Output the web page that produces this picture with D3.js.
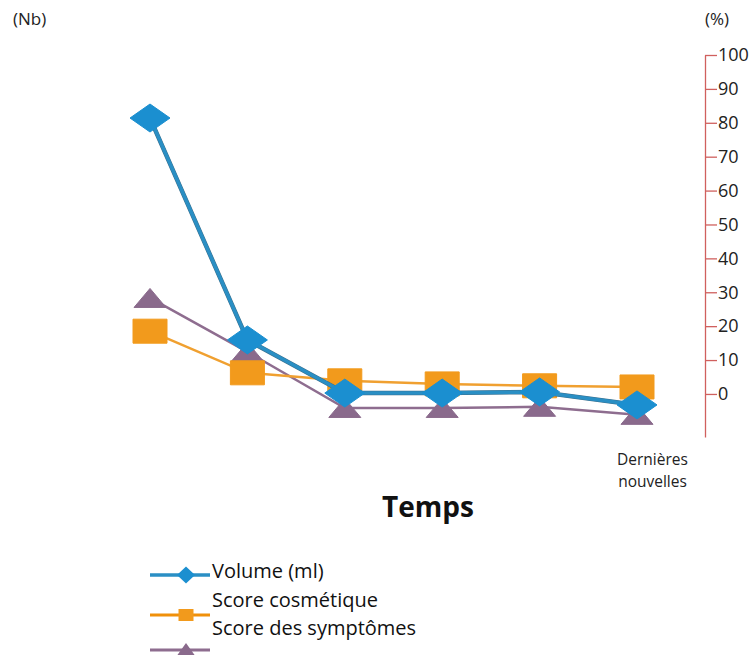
<!DOCTYPE html>
<html><head><meta charset="utf-8">
<script src="https://cdn.jsdelivr.net/npm/d3@7"></script>
<style>
html,body{margin:0;padding:0;background:#fff;}
svg{display:block;font-family:"Open Sans",sans-serif;}
</style></head>
<body>
<svg id="chart" width="751" height="655"></svg>
<script>
// ---- data ----
const categories = ["T1","T2","T3","T4","T5","Dernières nouvelles"];
const categoryLabels = ["","","","","","Dernières nouvelles"];
const volume = [83.5, 25.4, 11.5, 11.5, 11.8, 8.4];
const cosmetique = [27.7, 16.8, 14.7, 13.9, 13.4, 13.1];
const symptomes = [36.4, 22.3, 7.6, 7.6, 7.9, 5.8];
const seriesNames = ["Volume (ml)", "Score cosmétique", "Score des symptômes"];
const rightTicks = [0,10,20,30,40,50,60,70,80,90,100];

const svg = d3.select("#chart");

const x = d3.scalePoint().domain(categories).range([150, 637]);
const yLeft = d3.scaleLinear().domain([0, 100]).range([437, 55]);
const yRight = d3.scaleLinear().domain([-12.7, 100]).range([437, 55]);

// axis unit labels
svg.append("text").attr("x", 13).attr("y", 25).attr("font-size", 17).attr("fill", "#222").text("(Nb)");
svg.append("text").attr("x", 705).attr("y", 25).attr("font-size", 17).attr("fill", "#222").text("(%)");

// right axis
const axisR = svg.append("g").attr("transform", "translate(705,0)")
  .call(d3.axisRight(yRight).tickValues(rightTicks).tickSize(12).tickSizeOuter(0).tickPadding(1));
axisR.selectAll("path, line").attr("stroke", "#d0605e").attr("stroke-width", 1.3);
axisR.selectAll("text").attr("font-size", 18).attr("fill", "#222").attr("font-family", "Open Sans, sans-serif");

// x axis labels (no line)
const axisX = svg.append("g").attr("transform", "translate(0,445)")
  .call(d3.axisBottom(x).tickSize(0).tickFormat((d,i) => categoryLabels[i]));
axisX.select(".domain").remove();
axisX.selectAll("text").each(function(d){
  const t = d3.select(this);
  const label = categoryLabels[categories.indexOf(d)];
  t.text(null).attr("font-size", 15.5).attr("fill", "#222").attr("font-family", "Open Sans, sans-serif")
   .attr("x", 15).attr("y", 0).attr("dy", null);
  const words = label.split(" ").filter(w => w);
  words.forEach((w, k) => {
    t.append("tspan").attr("x", 15).attr("y", 20 + k * 22).text(w);
  });
});

svg.append("text").attr("x", 428).attr("y", 517).attr("text-anchor", "middle")
  .attr("font-size", 28).attr("font-weight", "bold").attr("fill", "#111").text("Temps");

// marker shapes
function diamond(w, h){ return `M0,${-h/2}L${w/2},0L0,${h/2}L${-w/2},0Z`; }
function square(w, h){ return `M${-w/2},${-h/2}h${w}v${h}h${-w}Z`; }
function triangle(w, h){ return `M0,${-h/2}L${w/2},${h/2}L${-w/2},${h/2}Z`; }

const series = [
  {name: seriesNames[2], values: symptomes, color: "#8e6d8f", mcolor: "#8a6a8c", width: 2.5, shape: triangle(32, 19), lshape: triangle(20, 14)},
  {name: seriesNames[1], values: cosmetique, color: "#f0a030", mcolor: "#f29a1c", width: 2.5, shape: square(34, 24), lshape: square(15, 12)},
  {name: seriesNames[0], values: volume, color: "#2a8fc4", mcolor: "#1b8fd0", width: 3.5, shape: diamond(40, 28), lshape: diamond(18, 17)}
];

const line = d3.line().x((d,i) => x(categories[i])).y(d => yLeft(d));

series.forEach(s => {
  const g = svg.append("g");
  if (s.name === seriesNames[0]) {
    g.append("path").attr("d", line(s.values)).attr("fill", "none").attr("stroke", "#3c6f8c").attr("stroke-width", 4.5);
  }
  g.append("path").attr("d", line(s.values)).attr("fill", "none").attr("stroke", s.color).attr("stroke-width", s.width);
  g.selectAll("path.m").data(s.values).join("path").attr("class", "m")
    .attr("transform", (d,i) => `translate(${x(categories[i])},${yLeft(d)})`)
    .attr("d", s.shape).attr("fill", s.mcolor).attr("stroke", s.mcolor).attr("stroke-width", 1);
});

// legend
const legend = [
  {name: seriesNames[0], color: "#2a8fc4", mcolor: "#1b8fd0", shape: diamond(18, 17), ly: 575, ty: 578, w: 3.5},
  {name: seriesNames[1], color: "#f0900a", mcolor: "#f29a1c", shape: square(15, 12), ly: 615, ty: 607, w: 3},
  {name: seriesNames[2], color: "#8e6d8f", mcolor: "#8a6a8c", shape: triangle(20, 14), ly: 650, ty: 635, w: 3}
];
const lg = svg.append("g");
legend.forEach(l => {
  lg.append("line").attr("x1", 150).attr("x2", 210).attr("y1", l.ly).attr("y2", l.ly)
    .attr("stroke", l.color).attr("stroke-width", l.w);
  lg.append("path").attr("d", l.shape).attr("transform", `translate(186,${l.ly})`).attr("fill", l.mcolor);
  lg.append("text").attr("x", 212).attr("y", l.ty).attr("font-size", 20).attr("fill", "#111").text(l.name);
});
</script>
</body></html>
